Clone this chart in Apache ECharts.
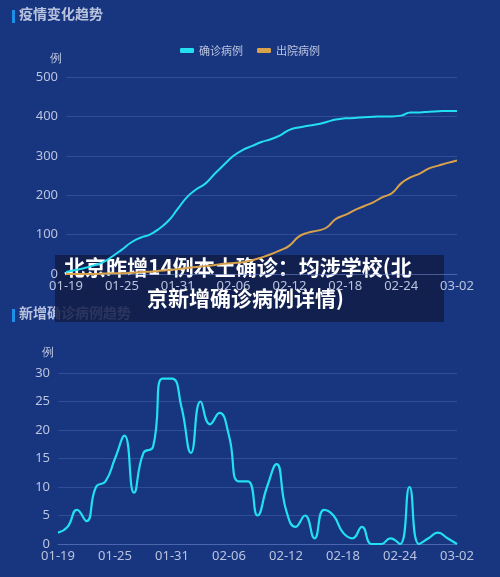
<!DOCTYPE html>
<html><head><meta charset="utf-8">
<script src="https://cdn.jsdelivr.net/npm/echarts@6/dist/echarts.min.js"></script>
<style>html,body{margin:0;padding:0;background:#183580}#c{width:500px;height:577px}</style>
</head><body><div id="c"></div>
<script>
const dates = [];
(function(){const d=new Date(2021,0,19);for(let i=0;i<43;i++){const x=new Date(d.getTime()+i*86400000);dates.push(String(x.getMonth()+1).padStart(2,'0')+'-'+String(x.getDate()).padStart(2,'0'));}})();
const confirmed = [5,10,15,22,30,45,62,80,92,100,115,135,165,195,215,230,255,278,300,315,325,335,342,352,366,372,376,380,386,392,395,396,398,399,400,400,402,410,410,412,413,414,414];
const discharged = [0,0,0,0,1,2,2,3,5,6,8,10,12,15,18,20,23,26,28,30,35,42,50,60,72,95,105,110,118,140,150,162,172,182,195,205,230,245,255,268,275,282,288];
const daily = [2,3,6,4,10,11,15,19,9,16,17,29,29,24,16,25,21,23,19,11,11,5,10,14,6,3,5,1,6,5,2,1,3,0,0,1,0,10,0,1,2,1,0];
const lab = {color:'#b9c3de',fontSize:13,fontFamily:'Noto Sans'};
const split = {lineStyle:{color:'rgba(120,150,220,0.25)'}};
const xa = (g)=>({type:'category',gridIndex:g,data:dates,boundaryGap:false,axisTick:{show:false},
  axisLine:{lineStyle:{color:'rgba(120,150,220,0.35)'}},axisLabel:Object.assign({interval:5,margin:6},lab)});
const ch = echarts.init(document.getElementById('c'));
ch.setOption({
  backgroundColor:'#183580',
  animation:false,
  grid:[{left:66,right:43,top:77,height:197},{left:58,right:43,top:373,height:171}],
  legend:{top:40,left:'center',itemWidth:14,itemHeight:5,icon:'roundRect',itemGap:14,
    textStyle:{color:'#b9c3de',fontSize:11,fontFamily:'Noto Sans CJK SC'},data:['确诊病例','出院病例']},
  xAxis:[xa(0),xa(1)],
  yAxis:[
    {type:'value',gridIndex:0,min:0,max:500,interval:100,name:'例',nameGap:12,nameTextStyle:{color:'#b9c3de',fontSize:12,align:'right',padding:[0,4,0,0]},
      axisLine:{show:false},axisTick:{show:false},axisLabel:lab,splitLine:split},
    {type:'value',gridIndex:1,min:0,max:30,interval:5,name:'例',nameGap:14,nameTextStyle:{color:'#b9c3de',fontSize:12,align:'right',padding:[0,4,0,0]},
      axisLine:{show:false},axisTick:{show:false},axisLabel:lab,splitLine:split}
  ],
  series:[
    {name:'确诊病例',type:'line',data:confirmed,smooth:true,showSymbol:false,lineStyle:{color:'#22e0f0',width:2},itemStyle:{color:'#22e0f0'}},
    {name:'出院病例',type:'line',data:discharged,smooth:true,showSymbol:false,lineStyle:{color:'#d9a24a',width:2},itemStyle:{color:'#d9a24a'}},
    {name:'新增',type:'line',xAxisIndex:1,yAxisIndex:1,data:daily,smooth:0.5,showSymbol:false,lineStyle:{color:'#22e0f0',width:2.2}}
  ],
  graphic:[
    {type:'rect',left:12,top:10,shape:{width:3,height:13},style:{fill:'#1e8fe8'}},
    {type:'text',left:19,top:7,style:{text:'疫情变化趋势',fill:'#b9c3de',font:'bold 14px "Noto Sans CJK SC"'}},
    {type:'rect',left:12,top:309,shape:{width:3,height:13},style:{fill:'#1e8fe8'}},
    {type:'text',left:19,top:306,style:{text:'新增确诊病例趋势',fill:'#b9c3de',font:'bold 14px "Noto Sans CJK SC"'}},
    {type:'rect',left:55,top:255,shape:{width:389,height:67},style:{fill:'rgba(18,28,70,0.85)'}},
    {type:'text',left:64,top:257,style:{text:'北京昨增14例本土确诊：均涉学校(北',fill:'#ffffff',font:'bold 21px "Noto Sans CJK SC"'}},
    {type:'text',left:147,top:288,style:{text:'京新增确诊病例详情)',fill:'#ffffff',font:'bold 21px "Noto Sans CJK SC"'}}
  ]
});
</script></body></html>
